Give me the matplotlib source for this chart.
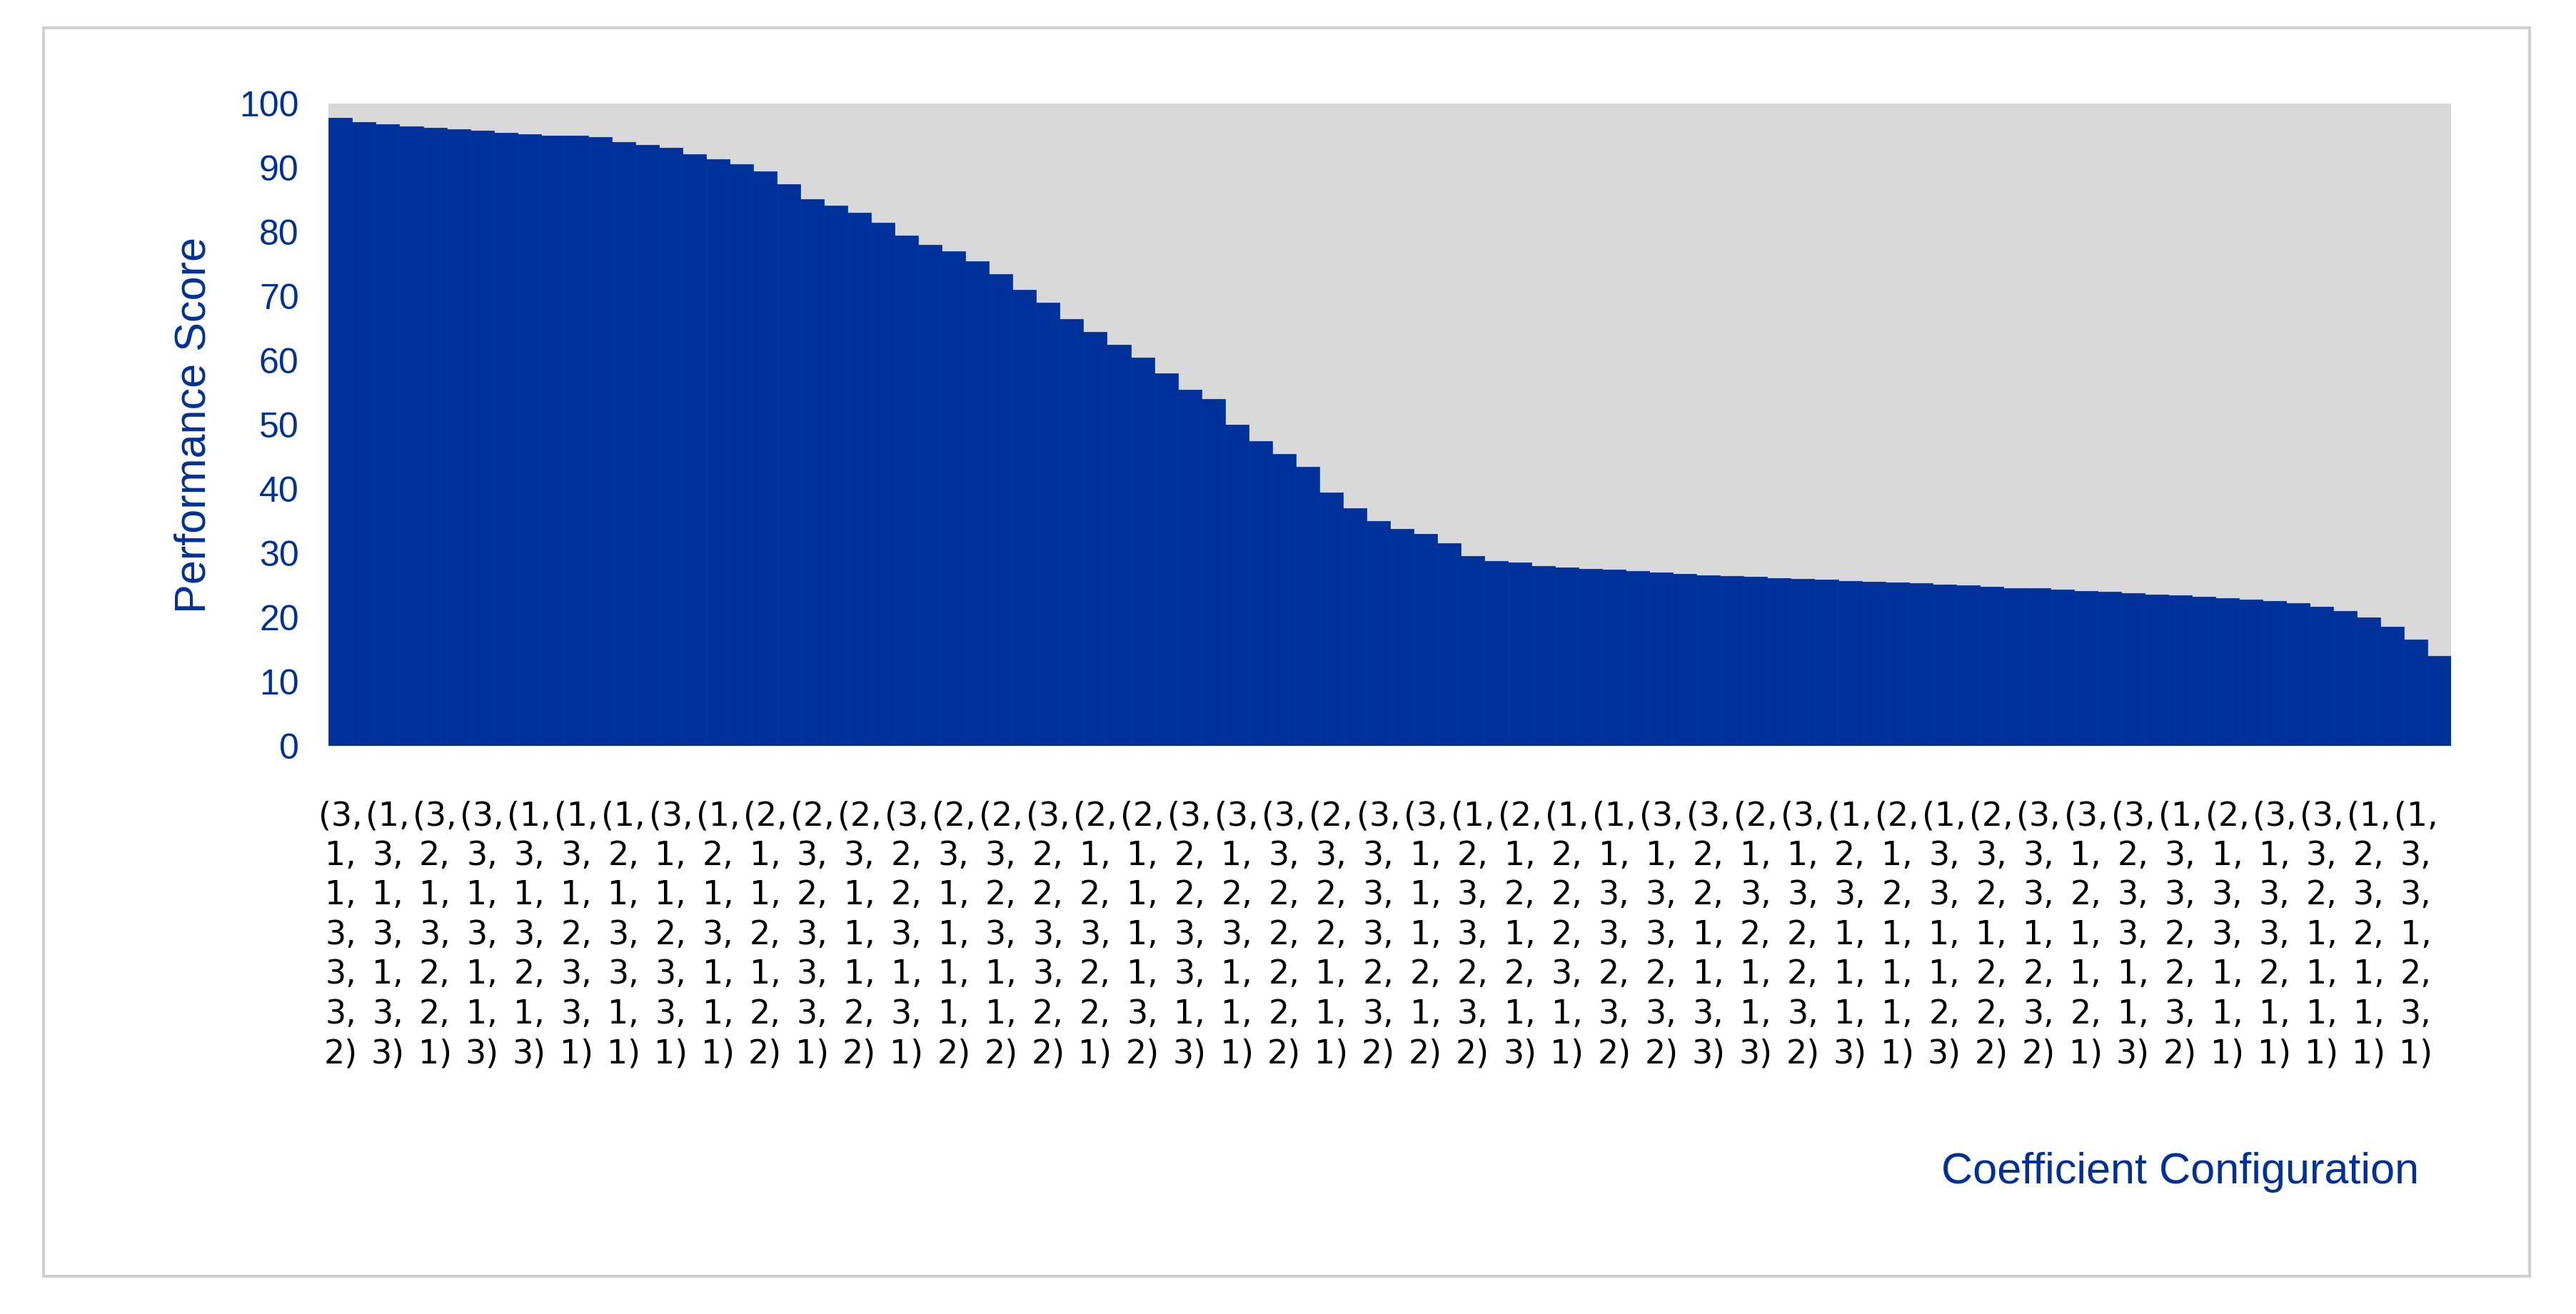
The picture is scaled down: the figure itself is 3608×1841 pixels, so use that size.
import matplotlib
matplotlib.use("Agg")
import matplotlib.pyplot as plt
from matplotlib.patches import Rectangle
import numpy as np

scores = [97.8, 97.2, 96.8, 96.5, 96.3, 96.0, 95.8, 95.5, 95.3, 95.1,
          95.0, 94.8, 94.0, 93.6, 93.2, 92.2, 91.4, 90.6, 89.5, 87.5,
          85.2, 84.2, 83.0, 81.5, 79.5, 78.0, 77.0, 75.5, 73.5, 71.0,
          69.0, 66.5, 64.5, 62.5, 60.5, 58.0, 55.5, 54.0, 50.0, 47.5,
          45.5, 43.5, 39.5, 37.0, 35.0, 33.8, 33.0, 31.5, 29.5, 28.8,
          28.5, 28.0, 27.8, 27.6, 27.4, 27.2, 27.0, 26.8, 26.6, 26.4,
          26.3, 26.1, 26.0, 25.9, 25.7, 25.6, 25.4, 25.3, 25.1, 25.0,
          24.8, 24.6, 24.5, 24.3, 24.1, 24.0, 23.8, 23.6, 23.4, 23.2,
          23.0, 22.8, 22.6, 22.2, 21.7, 21.0, 20.0, 18.5, 16.5, 14.0]

c1 = [3,1,3,3,1,1,1,3,1,2,2,2,3,2,2,3,2,2,3,3,3,2,3,3,1,2,1,1,3,3,2,3,1,2,1,2,3,3,3,1,2,3,3,1,1]
c2 = [1,3,2,3,3,3,2,1,2,1,3,3,2,3,3,2,1,1,2,1,3,3,3,1,2,1,2,1,1,2,1,1,2,1,3,3,3,1,2,3,1,1,3,2,3]
c3 = [1,1,1,1,1,1,1,1,1,1,2,1,2,1,2,2,2,1,2,2,2,2,3,1,3,2,2,3,3,2,3,3,3,2,3,2,3,2,3,3,3,3,2,3,3]
c4 = [3,3,3,3,3,2,3,2,3,2,3,1,3,1,3,3,3,1,3,3,2,2,3,1,3,1,2,3,3,1,2,2,1,1,1,1,1,1,3,2,3,3,1,2,1]
c5 = [3,1,2,1,2,3,3,3,1,1,3,1,1,1,1,3,2,1,3,1,2,1,2,2,2,2,3,2,2,1,1,2,1,1,1,2,2,1,1,2,1,2,1,1,2]
c6 = [3,3,2,1,1,3,1,3,1,2,3,2,3,1,1,2,2,3,1,1,2,1,3,1,3,1,1,3,3,3,1,3,1,1,2,2,3,2,1,3,1,1,1,1,3]
c7 = [2,3,1,3,3,1,1,1,1,2,1,2,1,2,2,2,1,2,3,1,2,1,2,2,2,3,1,2,2,3,3,2,3,1,3,2,2,1,3,2,1,1,1,1,1]

labels = ["(%d,\n%d,\n%d,\n%d,\n%d,\n%d,\n%d)" % t for t in zip(c1, c2, c3, c4, c5, c6, c7)]

blue = "#00309A"
fig = plt.figure(figsize=(36.08, 18.41), dpi=100)
fig.patches.append(Rectangle((0.017, 0.029), 0.965, 0.95, transform=fig.transFigure,
                             fill=False, edgecolor="#d0d0d0", linewidth=3))
ax = fig.add_axes([0.1276, 0.4325, 0.824, 0.4885])
ax.set_facecolor("#d9d9d9")
x = np.arange(len(scores))
ax.bar(x, scores, width=1.0, color=blue, edgecolor=blue, linewidth=0.5)
ax.set_xlim(-0.5, len(scores) - 0.5)
ax.set_ylim(0, 100)
ax.set_yticks(range(0, 101, 10))
ax.tick_params(axis="y", length=0, labelsize=36, labelcolor=blue, pad=30)
tick_pos = x[::2][:len(labels)]
ax.set_xticks(tick_pos)
ax.set_xticklabels(labels, fontsize=33, linespacing=1.3,
                   family=["Liberation Sans Narrow", "DejaVu Sans"])
ax.tick_params(axis="x", length=0, pad=55)
for s in ax.spines.values():
    s.set_visible(False)
for t in ax.get_yticklabels():
    t.set_family(["Liberation Sans", "DejaVu Sans"])
ax.set_ylabel("Performance Score", fontsize=44, color=blue,
              family=["Liberation Sans", "DejaVu Sans"], labelpad=25)
fig.text(0.939, 0.108, "Coefficient Configuration", fontsize=44, color=blue,
         ha="right", va="center", family=["Liberation Sans", "DejaVu Sans"])
fig.savefig("out.png", dpi=100, facecolor="white")
